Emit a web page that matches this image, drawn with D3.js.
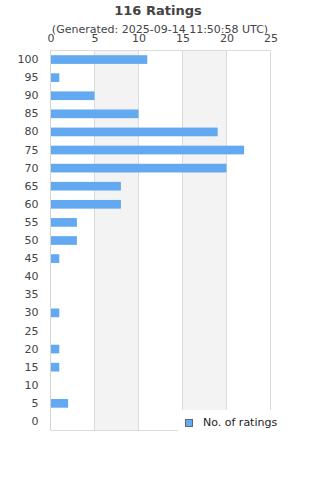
<!DOCTYPE html>
<html><head><meta charset="utf-8">
<script src="https://cdn.jsdelivr.net/npm/d3@7"></script>
<style>body{margin:0;background:#fff}svg{display:block;font-family:"DejaVu Sans",sans-serif}</style>
</head><body><svg id="c" width="320" height="480"></svg>
<script>
const categories = ["100","95","90","85","80","75","70","65","60","55","50","45","40","35","30","25","20","15","10","5","0"];
const counts = [11,1,5,10,19,22,20,8,8,3,3,1,0,0,1,0,1,1,0,2,0];
const xTicks = [0,5,10,15,20,25];
const title = "116 Ratings";
const subtitle = "(Generated: 2025-09-14 11:50:58 UTC)";
const seriesName = "No. of ratings";

const svg = d3.select("#c");
const L=50.5, R=270.5, T=50.5, B=430.5;
const x = d3.scaleLinear().domain([0,25]).range([L,R]);
const y = d3.scaleBand().domain(categories).range([T,B]).paddingInner(0.52).paddingOuter(0.26);

for (let i=0;i<xTicks.length-1;i++){
  if (i%2===1) svg.append("rect").attr("x",x(xTicks[i])).attr("y",T).attr("width",x(xTicks[i+1])-x(xTicks[i])).attr("height",B-T).attr("fill","#f3f3f3");
}
svg.selectAll(".g").data(xTicks.slice(1)).enter().append("line")
  .attr("x1",d=>x(d)).attr("x2",d=>x(d)).attr("y1",T).attr("y2",B).attr("stroke","#dcdcdc");
svg.append("line").attr("x1",L).attr("x2",R).attr("y1",T).attr("y2",T).attr("stroke","#dcdcdc");
svg.append("line").attr("x1",L).attr("x2",R).attr("y1",B).attr("y2",B).attr("stroke","#dcdcdc");
svg.append("line").attr("x1",L).attr("x2",L).attr("y1",T).attr("y2",B).attr("stroke","#d4d4d4");

svg.selectAll(".bar").data(categories).enter().append("rect")
  .attr("x",x(0)+0.5).attr("y",d=>y(d)).attr("height",y.bandwidth())
  .attr("width",(d,i)=>Math.max(0,x(counts[i])-x(0)-0.5)).attr("fill","#62a9f2");

const ax = svg.append("g").attr("transform",`translate(0,${T-9})`)
  .call(d3.axisTop(x).tickValues(xTicks).tickSize(0).tickPadding(0));
ax.select(".domain").remove();
ax.selectAll("text").attr("font-size",11).attr("fill","#444").attr("font-family","DejaVu Sans");

const ay = svg.append("g").attr("transform",`translate(${L-12},0)`)
  .call(d3.axisLeft(y).tickSize(0).tickPadding(0));
ay.select(".domain").remove();
ay.selectAll("text").attr("font-size",11).attr("fill","#444").attr("font-family","DejaVu Sans");

svg.append("text").attr("x",158).attr("y",15).attr("text-anchor","middle")
  .attr("font-size",13).attr("font-weight","bold").attr("fill","#444").text(title);
svg.append("text").attr("x",160).attr("y",33).attr("text-anchor","middle")
  .attr("font-size",11).attr("fill","#444").text(subtitle);

svg.append("rect").attr("x",178).attr("y",410).attr("width",142).attr("height",30).attr("fill","#fff");
svg.append("rect").attr("x",185.5).attr("y",419.5).attr("width",7).attr("height",7)
  .attr("fill","#62a9f2").attr("stroke","#666");
svg.append("text").attr("x",203).attr("y",426).attr("font-size",11).attr("fill","#222").text(seriesName);
</script></body></html>
